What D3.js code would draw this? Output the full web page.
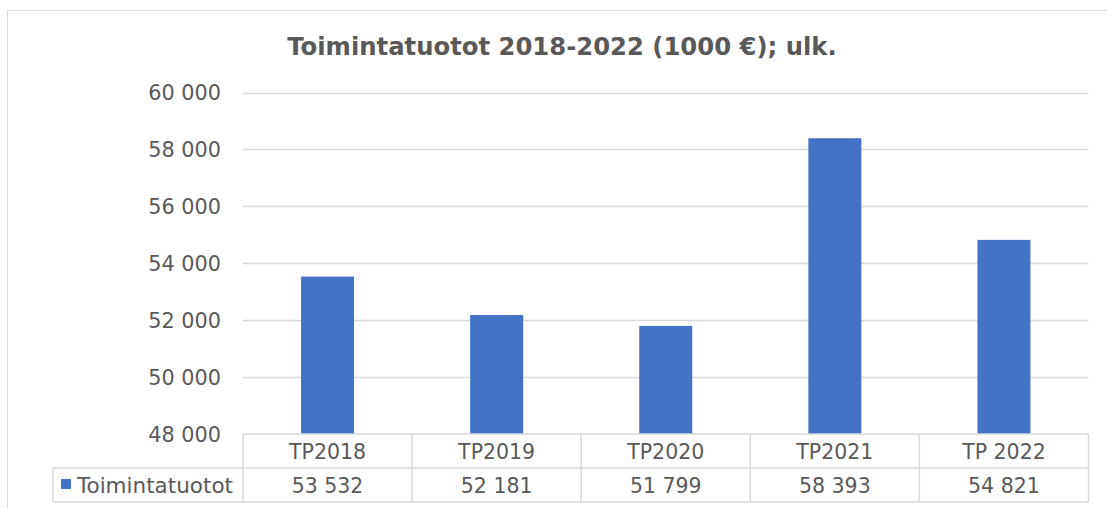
<!DOCTYPE html>
<html>
<head>
<meta charset="utf-8">
<script src="https://cdn.jsdelivr.net/npm/d3@7"></script>
<style>
  body { margin: 0; background: #fff; }
  svg text { font-family: "DejaVu Sans", Verdana, sans-serif; fill: #595959; }
</style>
</head>
<body>
<svg id="chart" width="1107" height="508"></svg>
<script>
// chart data
var categories = ["TP2018", "TP2019", "TP2020", "TP2021", "TP 2022"];
var values = [53532, 52181, 51799, 58393, 54821];
var yTicks = [48000, 50000, 52000, 54000, 56000, 58000, 60000];
var seriesName = "Toimintatuotot";
var title = "Toimintatuotot 2018-2022 (1000 €); ulk.";

var svg = d3.select("#chart");
var plotLeft = 243, plotRight = 1088.5, plotTop = 92.5, plotBottom = 434;
var rowH = 34;
var gridColor = "#d9d9d9";
var fontSize = "20.5px";

// outer frame (runs off the right and bottom edge)
svg.append("rect")
  .attr("x", 7.5).attr("y", 10.5)
  .attr("width", 1120).attr("height", 520)
  .attr("fill", "none").attr("stroke", gridColor);

svg.append("text")
  .attr("x", 562).attr("y", 55)
  .attr("text-anchor", "middle")
  .style("font-size", "24.3px").style("font-weight", "bold")
  .text(title);

var x = d3.scaleBand().domain(categories).range([plotLeft, plotRight]);
var y = d3.scaleLinear().domain([48000, 60000]).range([plotBottom, plotTop]);

var fmt = function(v) { return d3.format(",")(v).replace(/,/g, " "); };

// gridlines + y labels
svg.append("g").selectAll("line").data(yTicks.slice(1)).enter()
  .append("line")
  .attr("x1", plotLeft).attr("x2", plotRight)
  .attr("y1", d => Math.round(y(d)) + 0.5).attr("y2", d => Math.round(y(d)) + 0.5)
  .attr("stroke", gridColor).attr("stroke-width", 1.5);

svg.append("g").selectAll("text").data(yTicks).enter()
  .append("text")
  .attr("x", 221).attr("y", d => y(d) + 7.5)
  .attr("text-anchor", "end")
  .style("font-size", "20.8px")
  .text(fmt);

// bars
var barW = 53;
svg.append("g").selectAll("rect").data(values).enter()
  .append("rect")
  .attr("x", (d, i) => x(categories[i]) + x.bandwidth() / 2 - barW / 2)
  .attr("width", barW)
  .attr("y", d => y(d))
  .attr("height", d => plotBottom - y(d))
  .attr("fill", "#4472C4");

// data table
var t = svg.append("g").attr("stroke", gridColor).attr("stroke-width", 1.5).attr("fill", "none");
t.append("line").attr("x1", plotLeft).attr("x2", plotRight).attr("y1", plotBottom).attr("y2", plotBottom);
t.append("line").attr("x1", 53).attr("x2", plotRight).attr("y1", plotBottom + rowH).attr("y2", plotBottom + rowH);
t.append("line").attr("x1", 53).attr("x2", plotRight).attr("y1", plotBottom + 2 * rowH).attr("y2", plotBottom + 2 * rowH);
t.append("line").attr("x1", 53).attr("x2", 53).attr("y1", plotBottom + rowH).attr("y2", plotBottom + 2 * rowH);
t.selectAll(".col").data(categories.concat(["end"])).enter()
  .append("line")
  .attr("x1", (d, i) => plotLeft + i * x.bandwidth()).attr("x2", (d, i) => plotLeft + i * x.bandwidth())
  .attr("y1", plotBottom).attr("y2", plotBottom + 2 * rowH);

svg.append("g").selectAll("text").data(categories).enter()
  .append("text")
  .attr("x", d => x(d) + x.bandwidth() / 2)
  .attr("y", plotBottom + 25)
  .attr("text-anchor", "middle")
  .style("font-size", fontSize)
  .text(d => d);

svg.append("g").selectAll("text").data(values).enter()
  .append("text")
  .attr("x", (d, i) => x(categories[i]) + x.bandwidth() / 2)
  .attr("y", plotBottom + rowH + 25)
  .attr("text-anchor", "middle")
  .style("font-size", fontSize)
  .text(fmt);

// legend key
svg.append("rect")
  .attr("x", 61).attr("y", plotBottom + rowH + 11)
  .attr("width", 10).attr("height", 10)
  .attr("fill", "#4472C4");
svg.append("text")
  .attr("x", 77).attr("y", plotBottom + rowH + 25)
  .style("font-size", "21.5px")
  .text(seriesName);
</script>
</body>
</html>
